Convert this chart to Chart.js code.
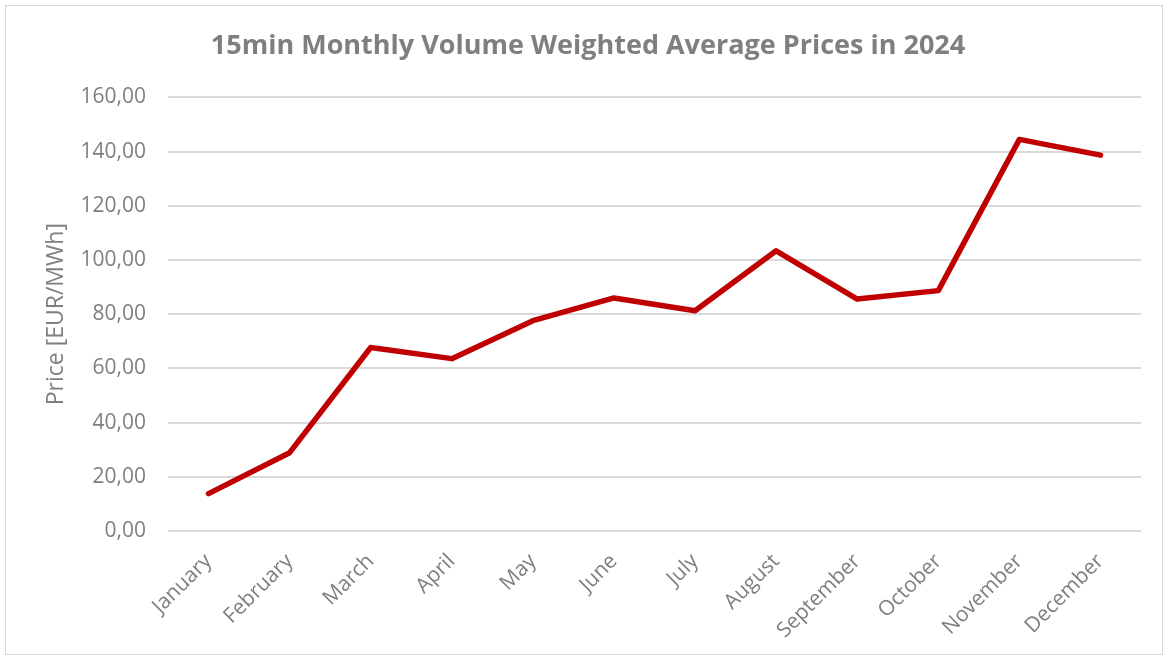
<!DOCTYPE html>
<html>
<head>
<meta charset="utf-8">
<script src="https://cdn.jsdelivr.net/npm/chart.js@4"></script>
<style>
  body { margin: 0; background: #fff; }
  #wrap { position: relative; width: 1166px; height: 657px; }
  #frame { position: absolute; left: 5px; top: 5px; width: 1158px; height: 650px; border: 1px solid #d9d9d9; box-sizing: border-box; }
  canvas { position: absolute; left: 0; top: 0; }
</style>
</head>
<body>
<div id="wrap">
  <div id="frame"></div>
  <canvas id="myCanvas" width="1166" height="657"></canvas>
</div>
<script>
// Data
const months = ['January', 'February', 'March', 'April', 'May', 'June', 'July', 'August', 'September', 'October', 'November', 'December'];
const prices = [13.8, 28.9, 67.7, 63.6, 77.6, 86.0, 81.3, 103.4, 85.6, 88.7, 144.5, 138.7];
const yTicks = [0, 20, 40, 60, 80, 100, 120, 140, 160];

const textGray = '#7f7f7f';
const ctx = document.getElementById('myCanvas').getContext('2d');

const chart = new Chart(ctx, {
    type: 'line',
    data: {
        labels: months,
        datasets: [{
            label: 'Price',
            data: prices,
            borderColor: '#c00000',
            borderWidth: 5.5,
            pointRadius: 0,
            fill: false,
            tension: 0,
            borderCapStyle: 'round',
            borderJoinStyle: 'round',
        }],
    },
    options: {
        responsive: false,
        animation: false,
        // left padding kept equal to right so the title centres like the original
        layout: { padding: { left: 35, right: 25, top: 0, bottom: 0 } },
        plugins: {
            legend: { display: false },
            tooltip: { enabled: false },
            title: {
                display: true,
                text: '15min Monthly Volume Weighted Average Prices in 2024',
                color: textGray,
                font: { family: 'Open Sans', size: 27, weight: 'bold' },
                padding: { top: 30, bottom: 35 },
            },
        },
        scales: {
            x: {
                offset: true,
                grid: { display: false, drawTicks: false },
                border: { display: false },
                ticks: {
                    color: textGray,
                    font: { family: 'Open Sans', size: 21 },
                    minRotation: 45,
                    maxRotation: 45,
                    padding: 18,
                },
                afterFit: (scale) => { scale.height = 126; },
            },
            y: {
                min: 0,
                max: 160,
                afterBuildTicks: (scale) => { scale.ticks = yTicks.map(v => ({ value: v })); },
                grid: { color: '#d9d9d9', lineWidth: 2, drawTicks: false },
                border: { display: false },
                ticks: {
                    color: textGray,
                    font: { family: 'Open Sans', size: 21 },
                    padding: 22,
                    callback: (v) => v.toFixed(2).replace('.', ','),
                },
                title: {
                    display: true,
                    text: 'Price [EUR/MWh]',
                    color: textGray,
                    font: { family: 'Open Sans', size: 23 },
                    padding: { top: 8, bottom: 0 },
                },
                afterFit: (scale) => { scale.width = 133; },
            },
        },
    },
});
</script>
</body>
</html>
